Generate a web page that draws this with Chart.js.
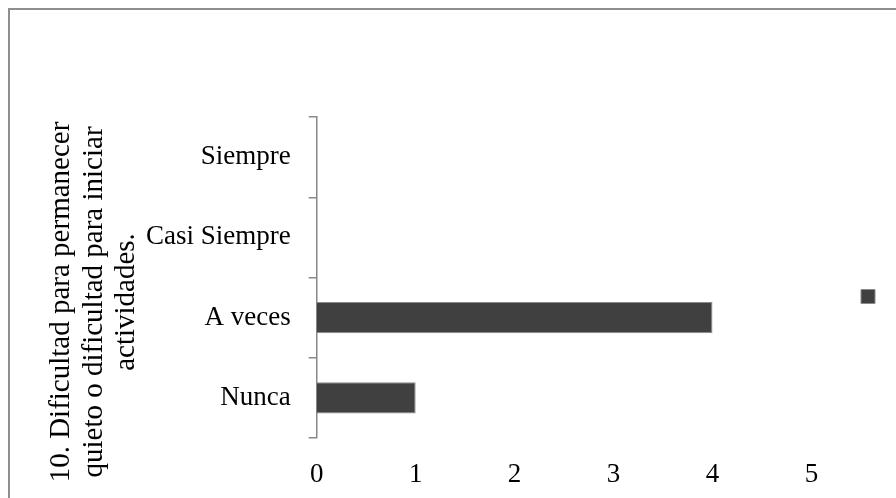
<!DOCTYPE html>
<html>
<head>
<meta charset="utf-8">
<script src="https://cdn.jsdelivr.net/npm/chart.js@4.4.0/dist/chart.umd.min.js"></script>
<style>
  html, body { margin: 0; padding: 0; background: #fff; overflow: hidden; }
  #wrap { position: relative; width: 896px; height: 498px; }
  #frame { position: absolute; left: 8px; top: 8px; width: 1000px; height: 600px; border: 2px solid #8e8e8e; box-sizing: border-box; pointer-events: none; }
</style>
</head>
<body>
<div id="wrap">
  <canvas id="chart" width="896" height="498"></canvas>
  <div id="frame"></div>
</div>
<script>
// Categories listed bottom to top, as in the picture
const categories = ['Nunca', 'A veces', 'Casi Siempre', 'Siempre'];
const counts = [1, 4, 0, 0];
const seriesLabel = '';
const axisTitleLines = [
  '10. Dificultad para permanecer',
  'quieto o dificultad para iniciar',
  'actividades.'
];

const serif = '"Liberation Serif", "DejaVu Serif", serif';

// Draws the three-line rotated category axis title
const yTitlePlugin = {
  id: 'yTitle',
  afterDraw(chart) {
    const ctx = chart.ctx;
    ctx.save();
    ctx.font = '29px ' + serif;
    ctx.fillStyle = '#000';
    ctx.textAlign = 'center';
    ctx.textBaseline = 'middle';
    ctx.translate(0, 302);
    ctx.rotate(-Math.PI / 2);
    const lineX = [61, 94, 126];
    axisTitleLines.forEach((line, i) => ctx.fillText(line, 0, lineX[i]));
    ctx.restore();
  }
};

new Chart(document.getElementById('chart'), {
  type: 'bar',
  data: {
    labels: categories,
    datasets: [{
      label: seriesLabel,
      data: counts,
      backgroundColor: '#404040',
      borderColor: '#8a8a8a',
      borderWidth: 1,
      categoryPercentage: 1,
      barPercentage: 0.39
    }]
  },
  options: {
    indexAxis: 'y',
    responsive: false,
    animation: false,
    layout: { padding: { left: 128, top: 95, bottom: 0, right: 4 } },
    plugins: {
      // empty title only keeps the blank band above the plot
      title: { display: true, text: '', padding: 0, font: { size: 22, lineHeight: 1 } },
      legend: {
        position: 'right',
        labels: { boxWidth: 14, boxHeight: 14, padding: 10, font: { size: 14 } }
      },
      tooltip: { enabled: false }
    },
    scales: {
      x: {
        min: 0,
        max: 5.4,
        grid: { display: false },
        border: { display: false },
        ticks: { stepSize: 1, includeBounds: false, padding: 13, color: '#000', font: { family: serif, size: 27 } },
        afterFit(scale) { scale.height = 60; }
      },
      y: {
        reverse: true,
        grid: { drawOnChartArea: false, color: '#888', lineWidth: 1.5, tickLength: 8 },
        border: { color: '#888', width: 1.5 },
        ticks: { padding: 18, color: '#000', font: { family: serif, size: 27 } }
      }
    }
  },
  plugins: [yTitlePlugin]
});
</script>
</body>
</html>
